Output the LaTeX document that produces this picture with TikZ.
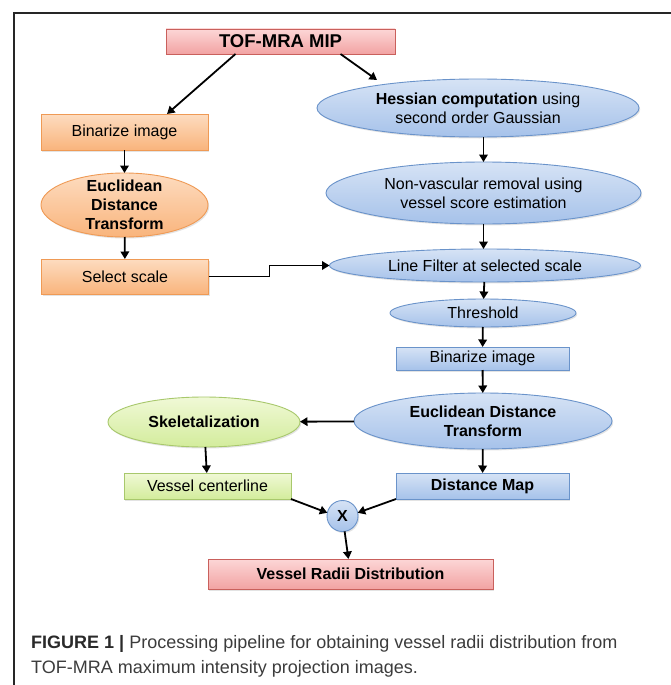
\documentclass[tikz,border=0pt]{standalone}
\usepackage{fontspec}
\setmainfont{Liberation Sans}
\usetikzlibrary{shapes.geometric,arrows.meta,shadows,calc}
\definecolor{redT}{HTML}{FCD6D6}
\definecolor{redB}{HTML}{F2A3A3}
\definecolor{redD}{HTML}{C9605C}
\definecolor{orT}{HTML}{FDDCC0}
\definecolor{orB}{HTML}{F9B47C}
\definecolor{orD}{HTML}{EF9A55}
\definecolor{blT}{HTML}{D6E3F5}
\definecolor{blB}{HTML}{A6C2EA}
\definecolor{blD}{HTML}{6A93CA}
\definecolor{grT}{HTML}{F0F9D6}
\definecolor{grB}{HTML}{D3EC9C}
\definecolor{grD}{HTML}{A8C86C}
\definecolor{capC}{HTML}{3C3C3C}
\definecolor{capB}{HTML}{2A2A2A}
\begin{document}
\begin{tikzpicture}[x=1pt,y=-1pt,
  base/.style={inner sep=0pt, outer sep=0pt, align=center, line width=0.9pt,
    font=\fontsize{16}{19}\selectfont,
    drop shadow={shadow xshift=1.2pt, shadow yshift=-1.5pt, opacity=0.22}},
  boxr/.style={base, rectangle},
  ell/.style={base, ellipse},
  redf/.style={top color=redT, bottom color=redB, draw=redD},
  orf/.style={top color=orT, bottom color=orB, draw=orD},
  blf/.style={top color=blT, bottom color=blB, draw=blD},
  grf/.style={top color=grT, bottom color=grB, draw=grD},
  arr/.style={draw=black, line width=1.8pt, -{Triangle[length=7.5pt,width=8.5pt]}},
  captext/.style={anchor=base west, inner sep=0pt, font=\fontsize{18}{25}\selectfont, text=capC}
]
\useasboundingbox (0,0) rectangle (671,685);
\clip (0,0) rectangle (671,685);
\fill[white] (0,0) rectangle (671,685);
\draw[line width=1.2pt, black!85] (14,700) -- (14,13) -- (700,13);

% nodes
\node[boxr, redf, minimum width=229pt, minimum height=25pt, font=\fontsize{18.5}{21}\selectfont\bfseries] (tof) at (280.5,41.5) {TOF-MRA MIP};
\node[boxr, orf, minimum width=167pt, minimum height=36pt] (bin1) at (124.5,132) {Binarize image};
\node[ell, orf, minimum width=167pt, minimum height=64pt, inner ysep=-4pt, font=\fontsize{16}{19}\selectfont\bfseries] (edt1) at (124.5,205) {Euclidean\\Distance\\Transform};
\node[boxr, orf, minimum width=167pt, minimum height=35pt] (sel) at (125,276.5) {Select scale};

\node[ell, blf, minimum width=322pt, minimum height=58pt] (hes) at (478,108) {\textbf{Hessian computation} using\\second order Gaussian};
\node[ell, blf, minimum width=315pt, minimum height=62pt] (nv) at (483.5,193) {Non-vascular removal using\\vessel score estimation};
\node[ell, blf, minimum width=311pt, minimum height=33pt] (lf) at (485,265.5) {Line Filter at selected scale};
\node[ell, blf, minimum width=186pt, minimum height=28pt] (thr) at (483,313) {Threshold};
\node[boxr, blf, minimum width=173pt, minimum height=23pt] (bin2) at (482.5,358.5) {Binarize image};
\node[ell, blf, minimum width=258pt, minimum height=56pt, font=\fontsize{16}{19}\selectfont\bfseries] (edt2) at (483,421) {Euclidean Distance\\Transform};

\node[ell, grf, minimum width=192pt, minimum height=50pt, font=\fontsize{16}{19}\selectfont\bfseries] (sk) at (204,422) {Skeletalization};
\node[boxr, grf, minimum width=167pt, minimum height=26pt] (vc) at (207.5,486) {Vessel centerline};
\node[boxr, blf, minimum width=173pt, minimum height=26pt, font=\fontsize{16}{19}\selectfont\bfseries] (dm) at (482.5,486) {Distance Map};
\node[base, circle, blf, minimum size=31pt, font=\fontsize{16}{19}\selectfont\bfseries] (xx) at (342.5,516) {X};
\node[boxr, redf, minimum width=285pt, minimum height=30pt, font=\fontsize{16}{19}\selectfont\bfseries] (vr) at (350.5,574) {Vessel Radii Distribution};

% connectors
\draw[arr] ([xshift=-45pt]tof.south) -- ([xshift=42.5pt]bin1.north);
\draw[arr] ([xshift=60pt]tof.south) -- ([xshift=-101pt,yshift=-1pt]hes.north);
\draw[arr] (bin1) -- (edt1);
\draw[arr] (edt1) -- (sel);
\draw[arr] (sel.east) -- ++(61pt,0) |- (lf.west);
\draw[arr] (nv.north |- hes.south) -- (nv.north);
\draw[arr] (nv.south) -- (nv.south |- lf.north);
\draw[arr] (lf) -- (thr);
\draw[arr] (thr) -- (bin2);
\draw[arr] (bin2) -- (edt2);
\draw[arr] (edt2) -- (sk);
\draw[arr] (sk) -- (vc);
\draw[arr] (edt2) -- (dm);
\draw[arr] (vc.south east) -- (xx.168);
\draw[arr] (dm.south west) -- (xx.12);
\draw[arr] (xx) -- (vr);

% caption
\node[captext] (cap1) at (31,648) {{\bfseries\color{capB}FIGURE 1 |} Processing pipeline for obtaining vessel radii distribution from};
\node[captext] (cap2) at (31,673) {TOF-MRA maximum intensity projection images.};
\end{tikzpicture}
\end{document}
